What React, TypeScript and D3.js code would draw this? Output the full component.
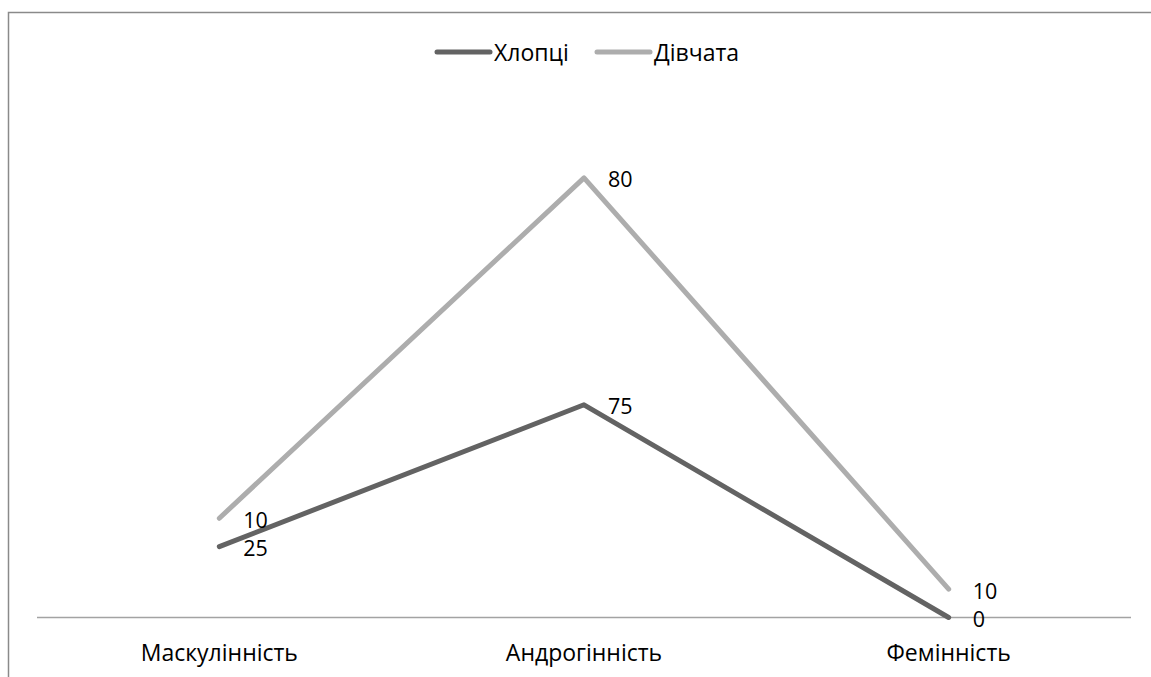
import React from 'react';
import * as d3 from 'd3';

// Categories on the x axis
const categories = ['Маскулінність', 'Андрогінність', 'Фемінність'];
// Series names (legend order)
const seriesNames = ['Хлопці', 'Дівчата'];
// Values per series, one per category
const boysValues = [25, 75, 0];
const girlsValues = [10, 80, 10];
const seriesColors = ['#636363', '#adadad'];

const W = 1151;
const H = 677;
const FONT = '"Open Sans", "Noto Sans", sans-serif';

export default function App() {
  const rows = categories.map((c, i) => ({
    category: c,
    [seriesNames[0]]: boysValues[i],
    [seriesNames[1]]: girlsValues[i],
  }));

  // stacked line chart: each series sits on top of the previous one
  const stacked = d3.stack<any>().keys(seriesNames)(rows);

  const x = d3.scaleBand<string>().domain(categories).range([37, 1131]);
  const cx = (c: string) => (x(c) as number) + x.bandwidth() / 2;
  const y = d3.scaleLinear().domain([0, 180]).range([617.5, 107]);

  const line = d3
    .line<any>()
    .x((d) => cx(d.data.category))
    .y((d) => y(d[1]));

  const legendItems = [
    { name: seriesNames[0], color: seriesColors[0], x0: 437, tx: 494 },
    { name: seriesNames[1], color: seriesColors[1], x0: 597, tx: 654 },
  ];

  return (
    <svg
      width={W}
      height={H}
      style={{ position: 'absolute', left: 0, top: 0, background: '#fff' }}
      fontFamily={FONT}
    >
      {/* chart frame */}
      <path d={`M8.5,${H + 5} V12.5 H${W + 5}`} fill="none" stroke="#8a8a8a" strokeWidth={1.5} />

      {/* category axis */}
      <line x1={37} x2={1131} y1={y(0)} y2={y(0)} stroke="#a3a3a3" strokeWidth={1.5} />
      {categories.map((c) => (
        <text key={c} x={cx(c)} y={661} textAnchor="middle" fontSize={23} fill="#000">
          {c}
        </text>
      ))}

      {/* series lines */}
      {stacked.map((s, i) => (
        <path
          key={s.key}
          d={line(s) as string}
          fill="none"
          stroke={seriesColors[i]}
          strokeWidth={5}
          strokeLinecap="round"
          strokeLinejoin="round"
        />
      ))}

      {/* data labels: raw values at the stacked position */}
      {stacked.map((s, i) =>
        s.map((d: any, j: number) => (
          <text
            key={`${s.key}-${j}`}
            x={cx(d.data.category) + 24}
            y={y(d[1]) + 9.5}
            fontSize={21.5}
            fill="#000"
          >
            {i === 0 ? boysValues[j] : girlsValues[j]}
          </text>
        ))
      )}

      {/* legend */}
      {legendItems.map((it) => (
        <g key={it.name}>
          <line
            x1={it.x0}
            x2={it.x0 + 53}
            y1={52}
            y2={52}
            stroke={it.color}
            strokeWidth={5}
            strokeLinecap="round"
          />
          <text x={it.tx} y={60.5} fontSize={23} fill="#000">
            {it.name}
          </text>
        </g>
      ))}
    </svg>
  );
}
